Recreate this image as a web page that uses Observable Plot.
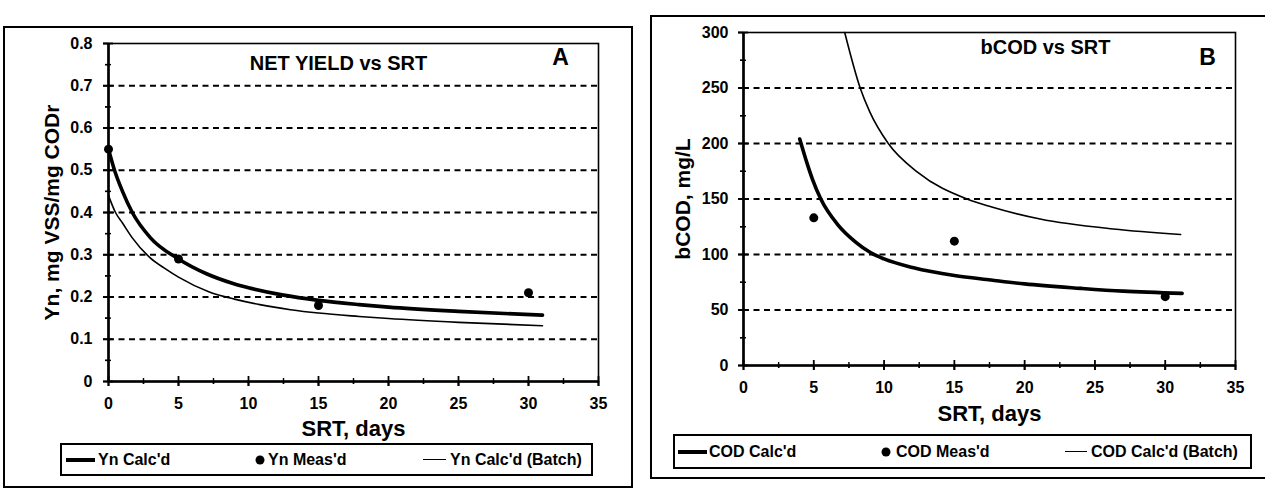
<!DOCTYPE html>
<html><head><meta charset="utf-8">
<script src="https://cdn.jsdelivr.net/npm/d3@7"></script>
<script src="https://cdn.jsdelivr.net/npm/@observablehq/plot@0.6"></script>
<style>
body{margin:0;background:#fff;}
#wrap{position:relative;width:1265px;height:494px;overflow:hidden;font-family:"Liberation Sans",Arial,sans-serif;color:#000;background:#fff;}
.box{position:absolute;border:2px solid #000;box-sizing:border-box;}
.legend{position:absolute;border:2px solid #000;box-sizing:border-box;background:#fff;}
.li{position:absolute;top:50%;transform:translateY(-50%);font-size:16px;font-weight:bold;white-space:nowrap;line-height:1;}
.sw{position:absolute;top:50%;background:#000;}
.dotsw{position:absolute;top:50%;width:9px;height:9px;border-radius:50%;background:#000;transform:translate(-50%,-50%);}
.plotpos{position:absolute;}
.plotpos svg{overflow:visible;}
</style></head><body><div id="wrap"></div>
<script>
// ---------- Panel A data: Net yield vs SRT ----------
const aCalcSRT  = [0, 0.43, 1, 1.7, 3, 5, 7, 8.9, 10, 12.4, 15, 17.9, 20, 25, 31];
const aCalcYn   = [0.55, 0.50, 0.45, 0.40, 0.34, 0.29, 0.255, 0.232, 0.222, 0.205, 0.192, 0.182, 0.176, 0.166, 0.157];
const aBatchSRT = [0, 0.5, 1, 1.7, 3, 4.1, 5, 7.2, 9, 10.8, 13, 15, 17.9, 20, 25, 31];
const aBatchYn  = [0.44, 0.40, 0.375, 0.34, 0.292, 0.266, 0.247, 0.212, 0.195, 0.182, 0.170, 0.162, 0.154, 0.149, 0.140, 0.132];
const aMeasSRT  = [0, 5, 15, 30];
const aMeasYn   = [0.55, 0.29, 0.18, 0.21];
const aYTicks   = [0, 0.1, 0.2, 0.3, 0.4, 0.5, 0.6, 0.7, 0.8];
const aYMinor   = [0.05, 0.15, 0.25, 0.35, 0.45, 0.55, 0.65, 0.75];
const aGrid     = [0.1, 0.2, 0.3, 0.4, 0.5, 0.6, 0.7];
const aLegend   = ["Yn Calc'd", "Yn Meas'd", "Yn Calc'd (Batch)"];

// ---------- Panel B data: bCOD vs SRT ----------
const bCalcSRT  = [4.0, 4.5, 4.9, 5.5, 6.7, 8, 9.0, 10, 12.1, 15, 17.6, 20, 24, 27, 31.2];
const bCalcCOD  = [204, 183, 168, 150, 127, 111, 102, 96, 88, 81, 77, 73.5, 69.5, 67, 65];
const bBatchSRT = [7.2, 8.3, 9.0, 10.3, 12.4, 15.9, 17.6, 21.1, 26.3, 31.1];
const bBatchCOD = [300, 250, 228, 200, 174, 150, 143, 132, 123, 118];
const bMeasSRT  = [5, 15, 30];
const bMeasCOD  = [133, 112, 62];
const bYTicks   = [0, 50, 100, 150, 200, 250, 300];
const bYMinor   = [25, 75, 125, 175, 225, 275];
const bGrid     = [50, 100, 150, 200, 250];
const bLegend   = ["COD Calc'd", "COD Meas'd", "COD Calc'd (Batch)"];

// ---------- shared x ticks ----------
const xTicks = [0, 5, 10, 15, 20, 25, 30, 35];
const xMinor = [2.5, 7.5, 12.5, 17.5, 22.5, 27.5, 32.5];

const zip = (xs, ys) => xs.map((x, i) => ({x, y: ys[i]}));
const FONT = "Liberation Sans, Arial, Helvetica, sans-serif";

function panel(c) {
  const tickFont = {fontSize: 16, fontWeight: "bold", fill: "#000"};
  const y0 = c.yDomain[0];
  // tick marks crossing the axis line: zero-length rules widened by negative insets
  const xTick = (vals, half, w) => Plot.ruleX(vals, {x: d => d, y1: y0, y2: y0, insetTop: -half, insetBottom: -half, stroke: "#000", strokeWidth: w});
  const yTick = (vals, half, w) => Plot.ruleY(vals, {y: d => d, x1: 0, x2: 0, insetLeft: -half, insetRight: -half, stroke: "#000", strokeWidth: w});
  return Plot.plot({
    width: c.width, height: c.height,
    marginLeft: c.ml, marginRight: c.mr, marginTop: c.mt, marginBottom: c.mb,
    x: {domain: [0, 35]},
    y: {domain: c.yDomain},
    style: {fontFamily: FONT, background: "transparent", color: "#000", overflow: "visible"},
    marks: [
      Plot.ruleY(c.grid, {stroke: "#000", strokeWidth: 2, strokeDasharray: "6,4.5"}),
      Plot.frame({stroke: "#000", strokeWidth: 1.6}),
      Plot.ruleX([0], {stroke: "#000", strokeWidth: 2.6}),
      Plot.ruleY([y0], {stroke: "#000", strokeWidth: 2.6}),
      Plot.axisX({ticks: xTicks, tickSize: 5, tickPadding: 11, stroke: "#000", strokeWidth: 1.8, ...tickFont, label: null}),
      Plot.axisX({ticks: xMinor, tickSize: 3, stroke: "#000", strokeWidth: 1.4, fill: "none", label: null}),
      Plot.axisY({ticks: c.yTicks, tickSize: 5, tickPadding: c.yPad - 5, stroke: "#000", strokeWidth: 1.8, tickFormat: c.yFmt, ...tickFont, label: null}),
      Plot.axisY({ticks: c.yMinor, tickSize: 3, stroke: "#000", strokeWidth: 1.4, fill: "none", label: null}),
      xTick(xTicks, 5, 1.8),
      xTick(xMinor, 3, 1.4),
      yTick(c.yTicks, 5, 1.8),
      yTick(c.yMinor, 3, 1.4),
      Plot.line(c.batch, {x: "x", y: "y", stroke: "#000", strokeWidth: 1.6, curve: "monotone-x"}),
      Plot.line(c.calc, {x: "x", y: "y", stroke: "#000", strokeWidth: 3.6, curve: "monotone-x"}),
      Plot.dot(c.meas, {x: "x", y: "y", r: 4.5, fill: "#000", stroke: null}),
      Plot.text([c.title], {text: d => d, frameAnchor: "top", dx: c.titleDx, dy: c.titleDy, fontSize: 20, fontWeight: "bold", fill: "#000", textAnchor: "middle", lineAnchor: "middle"}),
      Plot.text([c.letter], {text: d => d, frameAnchor: "top-right", dx: c.letterDx, dy: c.letterDy, fontSize: 23, fontWeight: "bold", fill: "#000", textAnchor: "middle", lineAnchor: "middle"}),
      Plot.text([c.xLabel], {text: d => d, frameAnchor: "bottom", dy: c.xLabelDy, fontSize: 22, fontWeight: "bold", fill: "#000", textAnchor: "middle", lineAnchor: "middle"}),
      Plot.text([c.yLabel], {text: d => d, frameAnchor: "left", dx: c.yLabelDx, rotate: -90, fontSize: 21, fontWeight: "bold", fill: "#000", textAnchor: "middle", lineAnchor: "middle"})
    ]
  });
}

const wrap = document.getElementById("wrap");
function addDiv(cls, css) { const d = document.createElement("div"); d.className = cls; Object.assign(d.style, css); return d; }

// outer boxes
wrap.appendChild(addDiv("box", {left: "3px", top: "26px", width: "630px", height: "462px"}));
wrap.appendChild(addDiv("box", {left: "650px", top: "15px", width: "620px", height: "464px"}));

const A = panel({
  width: 640, height: 440, ml: 108, mr: 42, mt: 43, mb: 59,
  yDomain: [0, 0.8], yTicks: aYTicks, yMinor: aYMinor, grid: aGrid, yPad: 16,
  yFmt: d => d === 0 ? "0" : d3.format(".1f")(d),
  calc: zip(aCalcSRT, aCalcYn), batch: zip(aBatchSRT, aBatchYn), meas: zip(aMeasSRT, aMeasYn),
  title: "NET YIELD vs SRT", titleDx: -15, titleDy: 20,
  letter: "A", letterDx: -38, letterDy: 14,
  xLabel: "SRT, days", xLabelDy: 47,
  yLabel: "Yn, mg VSS/mg CODr", yLabelDx: -56
});
const B = panel({
  width: 625, height: 420, ml: 103, mr: 30, mt: 32, mb: 55,
  yDomain: [0, 300], yTicks: bYTicks, yMinor: bYMinor, grid: bGrid, yPad: 15,
  yFmt: d => String(d),
  calc: zip(bCalcSRT, bCalcCOD), batch: zip(bBatchSRT, bBatchCOD), meas: zip(bMeasSRT, bMeasCOD),
  title: "bCOD vs SRT", titleDx: 56, titleDy: 15,
  letter: "B", letterDx: -28, letterDy: 25,
  xLabel: "SRT, days", xLabelDy: 48,
  yLabel: "bCOD, mg/L", yLabelDx: -60
});
const pa = addDiv("plotpos", {left: "0px", top: "0px"}); pa.appendChild(A); wrap.appendChild(pa);
const pb = addDiv("plotpos", {left: "640px", top: "0px"}); pb.appendChild(B); wrap.appendChild(pb);

// legends
function legend(labels, box, pos) {
  const lg = addDiv("legend", {left: box.left + "px", top: box.top + "px", width: box.w + "px", height: box.h + "px"});
  lg.appendChild(addDiv("sw", {left: pos.thick[0] + "px", width: (pos.thick[1] - pos.thick[0]) + "px", height: "4px", marginTop: "-2px"}));
  const t1 = addDiv("li", {left: pos.t1 + "px"}); t1.textContent = labels[0]; lg.appendChild(t1);
  lg.appendChild(addDiv("dotsw", {left: pos.dot + "px"}));
  const t2 = addDiv("li", {left: pos.t2 + "px"}); t2.textContent = labels[1]; lg.appendChild(t2);
  lg.appendChild(addDiv("sw", {left: pos.thin[0] + "px", width: (pos.thin[1] - pos.thin[0]) + "px", height: "1.6px", marginTop: "-1px"}));
  const t3 = addDiv("li", {left: pos.t3 + "px"}); t3.textContent = labels[2]; lg.appendChild(t3);
  wrap.appendChild(lg);
}
legend(aLegend, {left: 60, top: 443, w: 533, h: 33}, {thick: [4, 33], t1: 36, dot: 198, t2: 206, thin: [361, 384], t3: 388});
legend(bLegend, {left: 673, top: 434, w: 579, h: 35}, {thick: [3, 32], t1: 34, dot: 211, t2: 221, thin: [390, 412], t3: 416});
</script></body></html>
